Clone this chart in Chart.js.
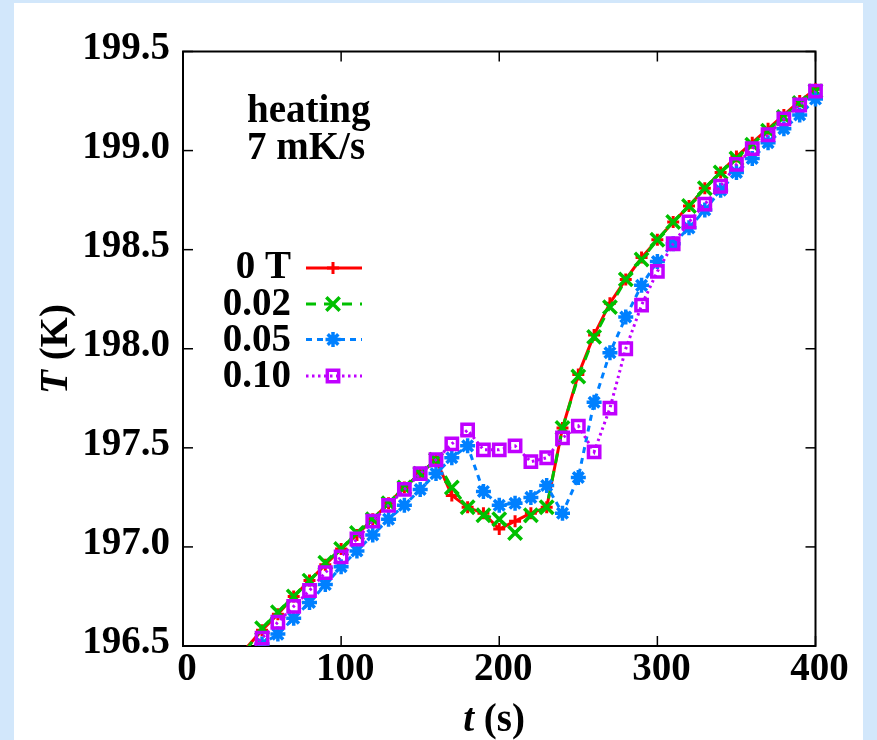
<!DOCTYPE html>
<html><head><meta charset="utf-8">
<script src="https://cdn.jsdelivr.net/npm/chart.js@4.4.1/dist/chart.umd.min.js"></script>
<style>
html,body{margin:0;padding:0;width:877px;height:740px;overflow:hidden;background:#d2e7fb;}
#panel{position:absolute;left:14px;top:3px;width:849px;height:737px;background:#fff;}
#wrap{position:absolute;left:0;top:0;width:877px;height:740px;}
</style></head><body>
<div id="panel"></div>
<div id="wrap"><canvas id="c" width="877" height="740"></canvas></div>
<script>
// ---- data ----
const times = [40,50,60,70,80,90,100,110,120,130,140,150,160,170,180,190,200,210,220,230,240,250,260,270,280,290,300,310,320,330,340,350,360,370,380,390,400];
const T_0T   = [196.49,196.58,196.66,196.75,196.83,196.91,196.99,197.06,197.14,197.22,197.30,197.37,197.44,197.26,197.20,197.17,197.09,197.13,197.17,197.20,197.60,197.87,198.07,198.23,198.35,198.46,198.55,198.64,198.72,198.81,198.89,198.97,199.04,199.11,199.18,199.25,199.31];
const T_002  = [196.48,196.59,196.67,196.75,196.83,196.92,196.99,197.07,197.14,197.22,197.30,197.37,197.44,197.30,197.20,197.16,197.14,197.07,197.16,197.20,197.60,197.86,198.06,198.21,198.35,198.45,198.55,198.64,198.72,198.81,198.89,198.96,199.03,199.10,199.17,199.24,199.30];
const T_005  = [196.42,196.51,196.56,196.64,196.72,196.81,196.90,196.98,197.06,197.14,197.21,197.29,197.37,197.45,197.51,197.28,197.21,197.22,197.25,197.31,197.17,197.35,197.73,197.98,198.16,198.32,198.44,198.53,198.61,198.70,198.80,198.89,198.96,199.04,199.11,199.18,199.26];
const T_010  = [196.46,196.54,196.62,196.70,196.78,196.87,196.95,197.04,197.13,197.21,197.29,197.37,197.44,197.52,197.59,197.49,197.49,197.51,197.43,197.45,197.55,197.61,197.48,197.70,198.00,198.22,198.39,198.53,198.64,198.73,198.82,198.93,199.01,199.08,199.16,199.23,199.30];
const seriesLabels = ['0 T','0.02','0.05','0.10'];
const xTickValues = [0,100,200,300,400];
const yTickValues = [196.5,197.0,197.5,198.0,198.5,199.0,199.5];
const annotationLines = ['heating','7 mK/s'];

const FONT = "'Liberation Serif','Times New Roman',serif";
const FS = 39;
const YMIN = 196.5, YMAX = 199.5, XMIN = 0, XMAX = 400;

function pts(arr){ return times.map((t,i)=>({x:t,y:arr[i]})); }
function radiusFn(r){ return ctx => (ctx.raw && ctx.raw.y < YMIN) ? 0 : r; }

const datasets = [
  {label:seriesLabels[0], data:pts(T_0T), borderColor:'#ff0000', borderWidth:3, borderDash:[],
   pointStyle:'cross', pointRadius:radiusFn(6), markerRadius:6, pointBorderWidth:3, pointBorderColor:'#ff0000', pointBackgroundColor:'rgba(0,0,0,0)', order:3},
  {label:seriesLabels[1], data:pts(T_002), borderColor:'#00c000', borderWidth:3, borderDash:[10,8],
   pointStyle:'crossRot', pointRadius:radiusFn(9.5), markerRadius:9.5, pointBorderWidth:3.5, pointBorderColor:'#00c000', pointBackgroundColor:'rgba(0,0,0,0)', order:2},
  {label:seriesLabels[2], data:pts(T_005), borderColor:'#0080ff', borderWidth:3, borderDash:[6,5],
   pointStyle:'star', pointRadius:radiusFn(7.5), markerRadius:7.5, pointBorderWidth:3.5, pointBorderColor:'#0080ff', pointBackgroundColor:'rgba(0,0,0,0)', order:1},
  {label:seriesLabels[3], data:pts(T_010), borderColor:'#c000ff', borderWidth:3, borderDash:[2.5,3.5],
   pointStyle:'rect', pointRadius:radiusFn(8), markerRadius:8, pointBorderWidth:3.5, pointBorderColor:'#c000ff', pointBackgroundColor:'rgba(0,0,0,0)', order:0}
];
datasets.forEach(d=>{ d.tension=0; d.fill=false; d.clip={left:0,top:20,right:20,bottom:0}; d.pointHoverRadius=0; });

const framePlugin = {
  id:'frame',
  beforeDatasetsDraw(chart){
    const {ctx, chartArea:a, scales} = chart;
    ctx.save();
    ctx.strokeStyle = '#000';
    ctx.lineWidth = 1.5;
    const tl = 10;
    yTickValues.forEach(v=>{
      const y = scales.y.getPixelForValue(v);
      ctx.beginPath(); ctx.moveTo(a.left,y); ctx.lineTo(a.left+tl,y); ctx.stroke();
      ctx.beginPath(); ctx.moveTo(a.right,y); ctx.lineTo(a.right-tl,y); ctx.stroke();
    });
    xTickValues.forEach(v=>{
      const x = scales.x.getPixelForValue(v);
      ctx.beginPath(); ctx.moveTo(x,a.bottom); ctx.lineTo(x,a.bottom-tl); ctx.stroke();
      ctx.beginPath(); ctx.moveTo(x,a.top); ctx.lineTo(x,a.top+tl); ctx.stroke();
    });
    ctx.lineWidth = 2;
    ctx.strokeRect(a.left, a.top, a.right-a.left, a.bottom-a.top);
    ctx.restore();
  },
  afterDraw(chart){
    const {ctx} = chart;
    ctx.save();
    ctx.fillStyle = '#000';
    const it = 'italic bold ' + FS + 'px ' + FONT, bd = 'bold ' + FS + 'px ' + FONT;
    // annotation
    ctx.font = bd;
    ctx.textAlign = 'left'; ctx.textBaseline = 'alphabetic';
    ctx.fillText(annotationLines[0], 247, 122);
    ctx.fillText(annotationLines[1], 247, 159);
    // x title: t (s)
    ctx.font = it; const w1 = ctx.measureText('t').width;
    ctx.font = bd; const w2 = ctx.measureText(' (s)').width;
    let x0 = 494 - (w1+w2)/2;
    ctx.font = it; ctx.fillText('t', x0, 731);
    ctx.font = bd; ctx.fillText(' (s)', x0+w1, 731);
    // y title: T (K)
    ctx.translate(67, 349);
    ctx.rotate(-Math.PI/2);
    ctx.font = it; const v1 = ctx.measureText('T').width;
    ctx.font = bd; const v2 = ctx.measureText(' (K)').width;
    let s0 = -(v1+v2)/2;
    ctx.font = it; ctx.fillText('T', s0, 0);
    ctx.font = bd; ctx.fillText(' (K)', s0+v1, 0);
    ctx.restore();

    // legend
    const rows = [268, 304, 339.5, 376];
    const bases = [278, 314.5, 350.5, 387];
    chart.data.datasets.forEach((ds,i)=>{
      ctx.save();
      ctx.font = bd;
      ctx.fillStyle = '#000';
      ctx.textAlign = 'right'; ctx.textBaseline = 'alphabetic';
      ctx.fillText(ds.label, 291, bases[i]);
      const y = rows[i];
      ctx.strokeStyle = ds.borderColor; ctx.lineWidth = ds.borderWidth;
      ctx.setLineDash(ds.borderDash || []);
      ctx.beginPath(); ctx.moveTo(306,y); ctx.lineTo(362,y); ctx.stroke();
      ctx.setLineDash([]);
      ctx.lineWidth = ds.pointBorderWidth;
      ctx.strokeStyle = ds.pointBorderColor;
      ctx.fillStyle = 'rgba(0,0,0,0)';
      Chart.helpers.drawPoint(ctx, {pointStyle:ds.pointStyle, radius:ds.markerRadius, rotation:0, borderWidth:ds.pointBorderWidth}, 333, y);
      ctx.restore();
    });
  }
};

new Chart(document.getElementById('c'), {
  type:'line',
  data:{datasets},
  options:{
    responsive:false,
    devicePixelRatio:1,
    animation:false,
    events:[],
    layout:{padding:{top:51.5, right:61.5, bottom:0, left:0}},
    plugins:{legend:{display:false}, tooltip:{enabled:false}},
    scales:{
      x:{type:'linear', min:XMIN, max:XMAX,
         afterBuildTicks: s => { s.ticks = xTickValues.map(v=>({value:v})); },
         afterFit: s => { s.height = 94; },
         grid:{display:false, drawTicks:false}, border:{display:false},
         ticks:{color:'#000', font:{family:FONT, size:FS, weight:'bold'}, padding:1, labelOffset:4, maxRotation:0,
                callback: v => String(v)}},
      y:{type:'linear', min:YMIN, max:YMAX,
         afterBuildTicks: s => { s.ticks = yTickValues.map(v=>({value:v})); },
         afterFit: s => { s.width = 183; },
         grid:{display:false, drawTicks:false}, border:{display:false},
         ticks:{color:'#000', font:{family:FONT, size:FS, weight:'bold'}, padding:13, labelOffset:-3,
                callback: v => Number(v).toFixed(1)}}
    }
  },
  plugins:[framePlugin]
});
</script>
</body></html>
